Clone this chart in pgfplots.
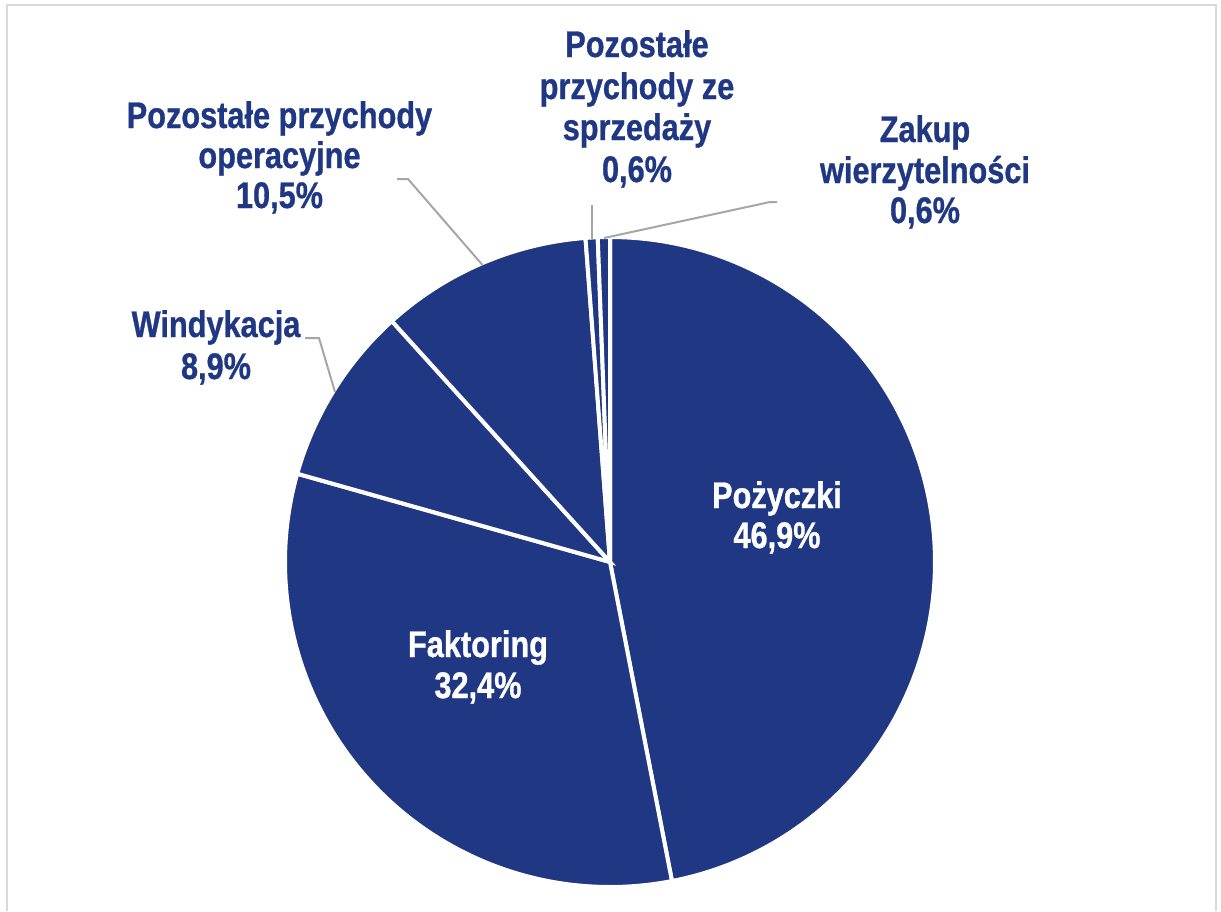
\documentclass[border=0pt]{standalone}
\usepackage{pgfplots}
\pgfplotsset{compat=1.18}
\usepackage{fontspec}
\setmainfont{Liberation Sans}
\newfontfamily\lab{Liberation Sans}[FakeStretch=0.83, FakeBold=0.8]
\definecolor{navy}{RGB}{32,56,132}
\definecolor{lead}{RGB}{166,166,166}
\definecolor{framec}{RGB}{217,217,217}
% shares (percent), clockwise from 12 o'clock
\def\vA{46.9}% Pożyczki
\def\vB{32.4}% Faktoring
\def\vC{8.9}%  Windykacja
\def\vD{10.5}% Pozostałe przychody operacyjne
\def\vE{0.6}%  Pozostałe przychody ze sprzedaży
\def\vF{0.6}%  Zakup wierzytelności
\pgfmathsetmacro\tot{\vA+\vB+\vC+\vD+\vE+\vF}
\pgfmathsetmacro\aA{-90}
\pgfmathsetmacro\aB{\aA+\vA/\tot*360}
\pgfmathsetmacro\aC{\aB+\vB/\tot*360}
\pgfmathsetmacro\aD{\aC+\vC/\tot*360}
\pgfmathsetmacro\aE{\aD+\vD/\tot*360}
\pgfmathsetmacro\aF{\aE+\vE/\tot*360}
\pgfmathsetmacro\aG{\aF+\vF/\tot*360}
\tikzset{lbl/.style={anchor=base, inner sep=0pt, font=\lab\bfseries\fontsize{18.5}{20.5}\selectfont, text=navy}}
\begin{document}
\begin{tikzpicture}
\begin{axis}[scale only axis, width=610.5pt, height=455.5pt,
  xmin=0, xmax=1221, ymin=0, ymax=911, y dir=reverse,
  hide axis, clip=false]
\coordinate (ll) at (axis cs:0,911);
\coordinate (ur) at (axis cs:1221,0);
% frame
\addplot[framec, line width=1pt] coordinates {(6.5,911) (6.5,5) (1216,5) (1216,911)};
% slices
\addplot[fill=navy, draw=white, line width=2pt, domain=\aA:\aB, samples=150, variable=\t] ({610+325*cos(\t)},{562+325*sin(\t)}) -- (axis cs:610,562) -- cycle;
\addplot[fill=navy, draw=white, line width=2pt, domain=\aB:\aC, samples=120, variable=\t] ({610+325*cos(\t)},{562+325*sin(\t)}) -- (axis cs:610,562) -- cycle;
\addplot[fill=navy, draw=white, line width=2pt, domain=\aC:\aD, samples=40, variable=\t] ({610+325*cos(\t)},{562+325*sin(\t)}) -- (axis cs:610,562) -- cycle;
\addplot[fill=navy, draw=white, line width=2pt, domain=\aD:\aE, samples=40, variable=\t] ({610+325*cos(\t)},{562+325*sin(\t)}) -- (axis cs:610,562) -- cycle;
\addplot[fill=navy, draw=white, line width=2pt, domain=\aE:\aF, samples=5, variable=\t] ({610+325*cos(\t)},{562+325*sin(\t)}) -- (axis cs:610,562) -- cycle;
\addplot[fill=navy, draw=white, line width=2pt, domain=\aF:\aG, samples=5, variable=\t] ({610+325*cos(\t)},{562+325*sin(\t)}) -- (axis cs:610,562) -- cycle;
% leader lines
\addplot[lead, line width=1pt] coordinates {(397,179) (408,179) (482.5,265)};
\addplot[lead, line width=1pt] coordinates {(305,338) (319,338) (335,392)};
\addplot[lead, line width=1pt] coordinates {(591.5,205) (591.5,239)};
\addplot[lead, line width=1pt] coordinates {(604,238) (770,202) (777,202)};
% labels
\node[lbl] at (axis cs:279.5,128) {Pozostałe przychody};
\node[lbl] at (axis cs:279.5,168) {operacyjne};
\node[lbl] at (axis cs:279.5,208) {10,5\%};
\node[lbl] at (axis cs:637,57) {Pozostałe};
\node[lbl] at (axis cs:637,99) {przychody ze};
\node[lbl] at (axis cs:637,140) {sprzedaży};
\node[lbl] at (axis cs:637,182) {0,6\%};
\node[lbl] at (axis cs:925,142) {Zakup};
\node[lbl] at (axis cs:925,183) {wierzytelności};
\node[lbl] at (axis cs:925,223) {0,6\%};
\node[lbl] at (axis cs:216,337) {Windykacja};
\node[lbl] at (axis cs:216,379) {8,9\%};
\node[lbl, text=white] at (axis cs:777,508) {Pożyczki};
\node[lbl, text=white] at (axis cs:777,548) {46,9\%};
\node[lbl, text=white] at (axis cs:478,657) {Faktoring};
\node[lbl, text=white] at (axis cs:478,698) {32,4\%};
\end{axis}
\pgfresetboundingbox
\path[use as bounding box] (ll) rectangle (ur);
\end{tikzpicture}
\end{document}
